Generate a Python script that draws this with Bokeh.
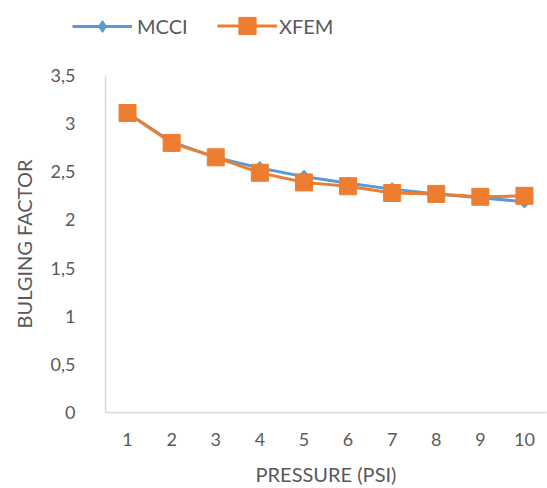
from bokeh.plotting import figure
from bokeh.layouts import column, row
from bokeh.models import Range1d, FixedTicker, CustomJSTickFormatter, Legend, LegendItem
from bokeh.embed import file_html
from bokeh.resources import INLINE
import math

pressure = [1, 2, 3, 4, 5, 6, 7, 8, 9, 10]
mcci = [3.11, 2.81, 2.65, 2.54, 2.45, 2.38, 2.32, 2.27, 2.23, 2.19]
xfem = [3.11, 2.80, 2.65, 2.49, 2.39, 2.35, 2.28, 2.27, 2.24, 2.25]
y_ticks = [0, 0.5, 1, 1.5, 2, 2.5, 3, 3.5]

BLUE = "#5B9BD5"
ORANGE = "#ED7D31"
TXT = "#595959"
FONT = "Lato"

# ---------- main chart ----------
p = figure(width=547, height=438, output_backend="svg", toolbar_location=None,
           x_range=Range1d(0.5, 10.5), y_range=Range1d(0, 3.5),
           min_border_left=105, min_border_right=1, min_border_top=25, min_border_bottom=76)
p.outline_line_color = None
p.xgrid.visible = False
p.ygrid.visible = False
p.background_fill_color = "white"
p.border_fill_color = "white"

p.line(pressure, mcci, line_color=BLUE, line_width=3)
p.scatter(pressure, mcci, marker="square", size=9, angle=math.pi / 4,
          fill_color=BLUE, line_color=BLUE)
p.line(pressure, xfem, line_color=ORANGE, line_width=3)
p.scatter(pressure, xfem, marker="square", size=17, fill_color=ORANGE, line_color=ORANGE)

for ax in (p.xaxis[0], p.yaxis[0]):
    ax.axis_line_color = "#D9D9D9"
    ax.axis_line_width = 1.5
    ax.major_tick_line_color = None
    ax.minor_tick_line_color = None
    ax.major_label_text_font = FONT
    ax.major_label_text_font_size = "18px"
    ax.major_label_text_color = TXT
    ax.axis_label_text_font = FONT
    ax.axis_label_text_font_size = "20px"
    ax.axis_label_text_font_style = "normal"
    ax.axis_label_text_color = TXT

p.xaxis.ticker = FixedTicker(ticks=pressure)
p.xaxis.axis_label = "PRESSURE (PSI)"
p.xaxis.major_label_standoff = 14
p.xaxis.axis_label_standoff = 13

p.yaxis.ticker = FixedTicker(ticks=y_ticks)
p.yaxis.formatter = CustomJSTickFormatter(code="return tick.toString().replace('.', ',')")
p.yaxis.axis_label = "BULGING FACTOR"
p.yaxis.major_label_standoff = 24
p.yaxis.axis_label_standoff = 12

# ---------- legend strip ----------
lf = figure(width=547, height=50, output_backend="svg", toolbar_location=None,
            x_range=Range1d(100, 101), y_range=Range1d(100, 101),
            x_axis_location=None, y_axis_location=None,
            min_border_left=0, min_border_right=0, min_border_top=0, min_border_bottom=0)
lf.outline_line_color = None
lf.xgrid.visible = False
lf.ygrid.visible = False
lf.border_fill_color = "white"

# legend proxies (same data, lying outside this strip's ranges, so only the legend shows them)
ml = lf.line(pressure, mcci, line_color=BLUE, line_width=3)
mm = lf.scatter(pressure, mcci, marker="diamond", size=12, fill_color=BLUE, line_color=BLUE)
xl = lf.line(pressure, xfem, line_color=ORANGE, line_width=3)
xm = lf.scatter(pressure, xfem, marker="square", size=17, fill_color=ORANGE, line_color=ORANGE)

def mk_legend(label, rends, gh, loc, standoff):
    lg = Legend(items=[LegendItem(label=label, renderers=rends)], location=loc,
                orientation="horizontal", glyph_width=60, glyph_height=gh,
                label_standoff=standoff, label_text_font=FONT, label_text_font_size="20px",
                label_text_color=TXT, padding=0, margin=0, spacing=0,
                border_line_color=None, background_fill_alpha=0)
    lf.add_layout(lg, "center")

mk_legend("MCCI", [ml, mm], 30, (72, 9), 5)
mk_legend("XFEM", [xl, xm], 43, (217, 3), 2)

layout = column(row(lf, spacing=0), p, spacing=0)
open("out.html", "w").write(file_html(layout, INLINE))
